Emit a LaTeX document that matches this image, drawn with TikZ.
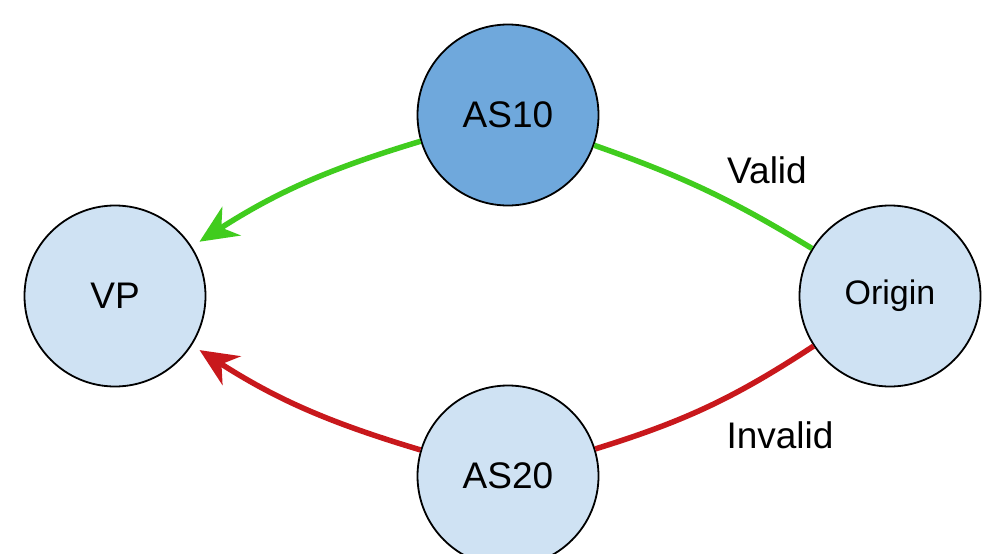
\documentclass[tikz,border=0pt]{standalone}
\usepackage{fontspec}
\setmainfont{Liberation Sans}
\usetikzlibrary{arrows.meta}
\definecolor{asdark}{RGB}{111,168,220}
\definecolor{aslight}{RGB}{207,226,243}
\definecolor{validgreen}{RGB}{64,204,30}
\definecolor{invalidred}{RGB}{200,24,28}
\begin{document}
\begin{tikzpicture}[x=1pt, y=-1pt]
\tikzstyle{every node}=[font=\fontsize{37}{44}\selectfont]
\tikzstyle{asnode}=[circle, draw=black, line width=1.8pt, fill=aslight, minimum size=181pt, inner sep=0pt]
\tikzstyle{validpath}=[draw=validgreen, line width=5.5pt]
\tikzstyle{invalidpath}=[draw=invalidred, line width=5.5pt]
\tikzstyle{headvp}=[-{Stealth[length=38pt, width=34pt, inset=12pt]}, shorten >=9pt]
	\useasboundingbox (0,0) rectangle (985,554);
	\clip (0,0) rectangle (985,554);
	\node[asnode] (vp) at (115,296) {VP};
	\node[asnode, fill=asdark] (as10) at (508,115) {AS10};
	\node[asnode] (as20) at (508,476) {AS20};
	\node[asnode, font=\fontsize{34}{40}\selectfont] (origin) at (890,296) {Origin};
	\draw[validpath, headvp] (as10) to[bend right=8] (vp);
	\draw[validpath] (as10) to[bend left=6] (origin);
	\draw[invalidpath, headvp] (as20) to[bend left=8] (vp);
	\draw[invalidpath] (as20) to[bend right=8] (origin);
	\node (valid) at (767,170) {Valid};
	\node (invalid) at (780,435) {Invalid};
\end{tikzpicture}
\end{document}
